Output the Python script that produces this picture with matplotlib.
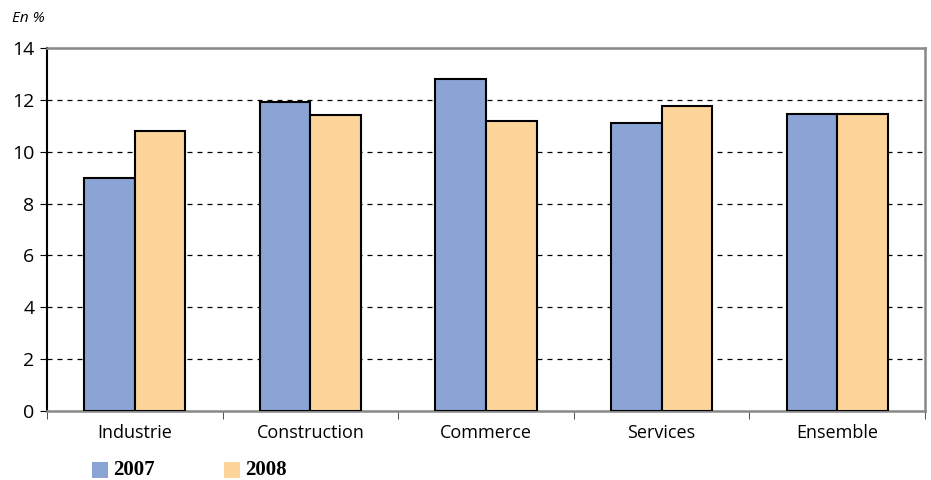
import matplotlib
matplotlib.use("Agg")
import matplotlib.pyplot as plt
import numpy as np
from matplotlib.patches import Rectangle

categories = ["Industrie", "Construction", "Commerce", "Services", "Ensemble"]
v2007 = [9.0, 11.9, 12.8, 11.1, 11.45]
v2008 = [10.8, 11.4, 11.2, 11.75, 11.45]
series_labels = ["2007", "2008"]
yticks = [0, 2, 4, 6, 8, 10, 12, 14]

c07 = "#8AA5D5"
c08 = "#FDD59A"

fig = plt.figure(figsize=(9.31, 4.80), dpi=100)
ax = fig.add_axes([47/931, 1-411/480, 878/931, 363/480])

x = np.arange(len(categories))
w = 0.288
ax.bar(x - w/2, v2007, w, color=c07, edgecolor="black", linewidth=1.5, zorder=3)
ax.bar(x + w/2, v2008, w, color=c08, edgecolor="black", linewidth=1.5, zorder=3)

ax.set_xlim(-0.5, len(categories) - 0.5)
ax.set_ylim(0, 14)
ax.set_yticks(yticks)
ax.set_yticklabels([str(t) for t in yticks], fontsize=14, family="Open Sans")
for t in yticks[1:-1]:
    ax.axhline(t, color="black", linestyle=(0, (4, 4)), linewidth=0.9, zorder=1)
ax.axhline(14, color="#888888", linestyle=(0, (4, 4)), linewidth=0.9, zorder=1)

ax.set_xticks(x)
ax.set_xticklabels(categories, fontsize=13, family="Open Sans")
ax.tick_params(axis="x", length=0, pad=9)
ax.set_xticks(np.arange(len(categories) + 1) - 0.5, minor=True)
ax.tick_params(axis="x", which="minor", length=6, direction="out", color="#333333")
ax.tick_params(axis="y", length=5, direction="out", pad=4)

ax.spines["left"].set_color("black")
ax.spines["left"].set_linewidth(1.5)
for s in ["top", "right", "bottom"]:
    ax.spines[s].set_color("#888888")
    ax.spines[s].set_linewidth(1.8)

fig.text(12/931, 1-19/480, "En %", fontsize=11, style="italic", family="Open Sans", va="center")

# legend
for i, (lab, col) in enumerate(zip(series_labels, [c07, c08])):
    x0 = 92 + i * 132
    fig.patches.append(Rectangle((x0/931, 1-478/480), 16/931, 16/480,
                                 transform=fig.transFigure, facecolor=col, edgecolor="none"))
    fig.text((x0 + 21)/931, 1-470/480, lab, fontsize=15, fontweight="bold",
             family="Liberation Serif", va="center")

fig.savefig("out.png", dpi=100)
